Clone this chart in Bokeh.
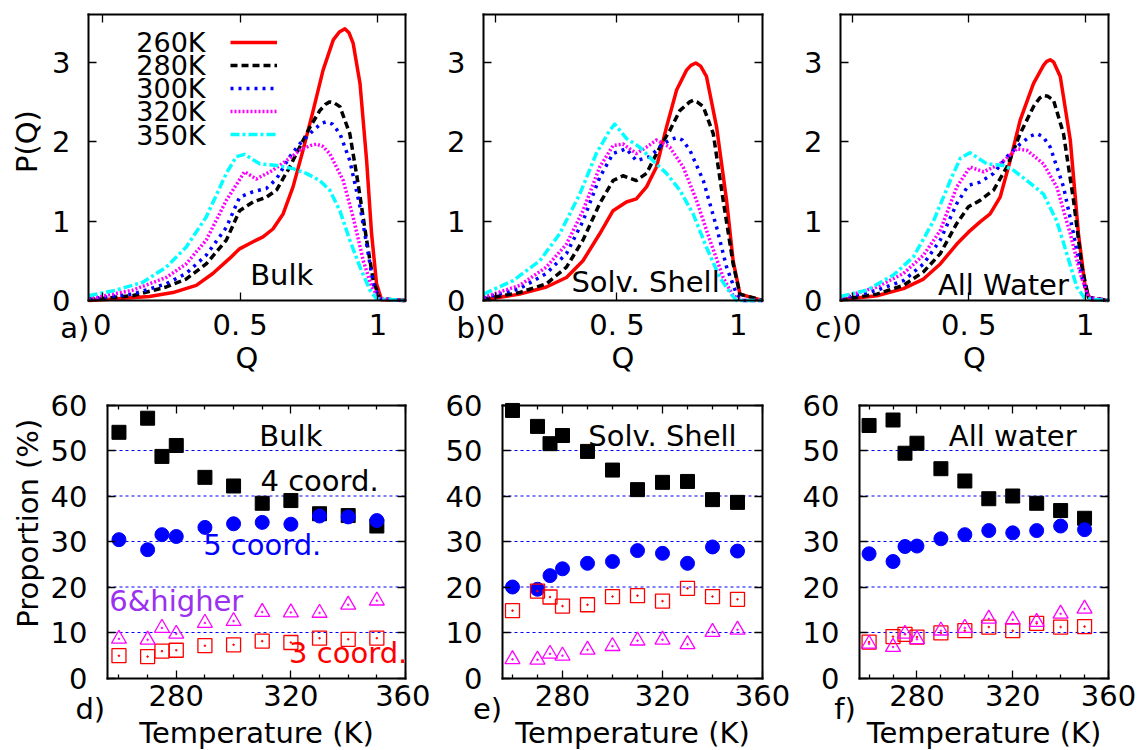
from bokeh.plotting import figure
from bokeh.layouts import column, row
from bokeh.models import (FixedTicker, LinearAxis, Label, Legend, LegendItem,
                          Range1d)
from bokeh.embed import file_html
from bokeh.resources import INLINE

FONT = "DejaVu Sans"
FS = "29px"

# ---------------- P(Q) distributions (top row) ----------------
pq_temps = ["260K", "280K", "300K", "320K", "350K"]

# Bulk
bulk_260_q = [-0.05, 0.0, 0.171, 0.256, 0.341, 0.401, 0.462, 0.498, 0.547, 0.583, 0.619, 0.656, 0.692, 0.728, 0.765, 0.801, 0.838, 0.86, 0.88, 0.895, 0.91, 0.935, 0.959, 0.977, 0.995, 1.013, 1.1]
bulk_260_p = [0.0, 0.01, 0.05, 0.1, 0.19, 0.34, 0.53, 0.65, 0.74, 0.8, 0.9, 1.09, 1.43, 1.89, 2.39, 2.9, 3.28, 3.38, 3.42, 3.37, 3.24, 2.73, 1.76, 0.84, 0.21, 0.01, 0.0]
bulk_280_q = [-0.05, 0.11, 0.232, 0.304, 0.377, 0.45, 0.498, 0.547, 0.595, 0.632, 0.68, 0.716, 0.753, 0.789, 0.81, 0.825, 0.84, 0.862, 0.898, 0.928, 0.959, 0.983, 1.007, 1.1]
bulk_280_p = [0.01, 0.06, 0.17, 0.27, 0.46, 0.76, 1.13, 1.24, 1.3, 1.39, 1.68, 1.93, 2.18, 2.39, 2.47, 2.5, 2.49, 2.44, 2.1, 1.47, 0.76, 0.25, 0.02, 0.0]
bulk_300_q = [-0.05, 0.11, 0.232, 0.304, 0.377, 0.45, 0.498, 0.547, 0.595, 0.632, 0.68, 0.716, 0.765, 0.795, 0.813, 0.835, 0.862, 0.898, 0.935, 0.959, 0.983, 1.007, 1.1]
bulk_300_p = [0.02, 0.08, 0.21, 0.34, 0.57, 0.92, 1.3, 1.37, 1.41, 1.53, 1.81, 1.97, 2.14, 2.23, 2.25, 2.22, 2.1, 1.76, 1.18, 0.71, 0.21, 0.02, 0.0]
bulk_320_q = [-0.05, 0.11, 0.232, 0.304, 0.377, 0.45, 0.516, 0.559, 0.619, 0.68, 0.716, 0.755, 0.777, 0.8, 0.825, 0.874, 0.91, 0.947, 0.977, 1.007, 1.1]
bulk_320_p = [0.02, 0.13, 0.29, 0.46, 0.76, 1.26, 1.62, 1.53, 1.64, 1.79, 1.89, 1.95, 1.97, 1.94, 1.85, 1.51, 1.05, 0.5, 0.17, 0.02, 0.0]
bulk_350_q = [-0.05, 0.05, 0.147, 0.232, 0.304, 0.377, 0.45, 0.486, 0.516, 0.571, 0.632, 0.692, 0.74, 0.789, 0.825, 0.862, 0.898, 0.935, 0.971, 0.995, 1.1]
bulk_350_p = [0.06, 0.13, 0.23, 0.42, 0.67, 1.05, 1.6, 1.81, 1.84, 1.72, 1.7, 1.66, 1.6, 1.51, 1.39, 1.13, 0.76, 0.42, 0.13, 0.02, 0.0]

# Solvation shell
shell_260_q = [-0.05, 0.099, 0.209, 0.292, 0.36, 0.429, 0.484, 0.539, 0.58, 0.622, 0.663, 0.704, 0.746, 0.787, 0.805, 0.825, 0.845, 0.869, 0.911, 0.952, 0.979, 1.007, 1.1]
shell_260_p = [0.01, 0.08, 0.17, 0.29, 0.5, 0.84, 1.13, 1.24, 1.28, 1.43, 1.68, 2.18, 2.65, 2.9, 2.96, 2.99, 2.95, 2.82, 2.18, 1.26, 0.5, 0.08, 0.0]
shell_280_q = [-0.05, 0.099, 0.209, 0.292, 0.36, 0.429, 0.484, 0.525, 0.58, 0.622, 0.677, 0.718, 0.759, 0.8, 0.814, 0.83, 0.856, 0.897, 0.938, 0.979, 1.007, 1.1]
shell_280_p = [0.02, 0.1, 0.21, 0.42, 0.76, 1.22, 1.51, 1.57, 1.51, 1.6, 1.93, 2.14, 2.39, 2.5, 2.52, 2.5, 2.44, 2.1, 1.26, 0.46, 0.08, 0.0]
shell_300_q = [-0.05, 0.099, 0.209, 0.292, 0.36, 0.429, 0.484, 0.539, 0.58, 0.635, 0.69, 0.725, 0.746, 0.77, 0.801, 0.856, 0.911, 0.952, 0.993, 1.021, 1.1]
shell_300_p = [0.03, 0.15, 0.34, 0.59, 1.0, 1.55, 1.85, 1.91, 1.76, 1.81, 1.97, 2.03, 2.05, 2.02, 1.89, 1.51, 0.92, 0.42, 0.08, 0.0, 0.0]
shell_320_q = [-0.05, 0.099, 0.209, 0.292, 0.36, 0.429, 0.484, 0.525, 0.58, 0.622, 0.663, 0.718, 0.773, 0.828, 0.883, 0.938, 0.979, 1.021, 1.1]
shell_320_p = [0.04, 0.19, 0.42, 0.71, 1.13, 1.68, 1.95, 1.97, 1.85, 1.93, 2.02, 1.93, 1.68, 1.26, 0.76, 0.29, 0.06, 0.0, 0.0]
shell_350_q = [-0.05, 0.072, 0.182, 0.264, 0.347, 0.415, 0.47, 0.491, 0.539, 0.594, 0.649, 0.704, 0.759, 0.814, 0.869, 0.924, 0.966, 0.993, 1.1]
shell_350_p = [0.08, 0.25, 0.5, 0.84, 1.34, 1.85, 2.14, 2.22, 2.04, 1.93, 1.76, 1.6, 1.39, 1.09, 0.67, 0.29, 0.1, 0.0, 0.0]

# All water
all_260_q = [-0.05, 0.106, 0.22, 0.306, 0.378, 0.449, 0.499, 0.549, 0.592, 0.635, 0.678, 0.721, 0.778, 0.821, 0.835, 0.85, 0.865, 0.893, 0.936, 0.971, 1.0, 1.021, 1.1]
all_260_p = [0.01, 0.06, 0.15, 0.27, 0.46, 0.71, 0.86, 0.99, 1.09, 1.3, 1.76, 2.27, 2.73, 2.96, 3.01, 3.03, 3.0, 2.82, 2.02, 0.84, 0.17, 0.01, 0.0]
all_280_q = [-0.05, 0.106, 0.22, 0.306, 0.378, 0.449, 0.499, 0.549, 0.607, 0.664, 0.721, 0.778, 0.805, 0.821, 0.84, 0.864, 0.907, 0.95, 0.986, 1.014, 1.1]
all_280_p = [0.01, 0.08, 0.19, 0.36, 0.59, 0.97, 1.18, 1.26, 1.39, 1.68, 2.1, 2.44, 2.55, 2.58, 2.57, 2.52, 2.1, 1.26, 0.42, 0.04, 0.0]
all_300_q = [-0.05, 0.106, 0.22, 0.306, 0.378, 0.449, 0.499, 0.549, 0.607, 0.664, 0.721, 0.765, 0.793, 0.82, 0.85, 0.907, 0.95, 0.986, 1.014, 1.1]
all_300_p = [0.02, 0.13, 0.25, 0.46, 0.76, 1.22, 1.45, 1.49, 1.6, 1.81, 1.97, 2.07, 2.1, 2.06, 1.93, 1.43, 0.84, 0.29, 0.03, 0.0]
all_320_q = [-0.05, 0.106, 0.22, 0.306, 0.378, 0.449, 0.506, 0.564, 0.635, 0.707, 0.75, 0.821, 0.878, 0.936, 0.979, 1.014, 1.1]
all_320_p = [0.03, 0.17, 0.34, 0.57, 0.88, 1.43, 1.68, 1.62, 1.72, 1.91, 1.89, 1.72, 1.43, 0.84, 0.34, 0.04, 0.0]
all_350_q = [-0.05, 0.063, 0.177, 0.263, 0.349, 0.421, 0.464, 0.506, 0.578, 0.649, 0.692, 0.75, 0.821, 0.878, 0.921, 0.964, 1.0, 1.1]
all_350_p = [0.05, 0.13, 0.32, 0.55, 1.0, 1.51, 1.79, 1.86, 1.72, 1.7, 1.64, 1.51, 1.34, 1.0, 0.59, 0.17, 0.02, 0.0]

q_ticks = [0, 0.5, 1]
q_tick_labels = ["0", "0. 5", "1"]
pq_ticks = [0, 1, 2, 3]

# ---------------- coordination proportions (bottom row) ----------------
temperature = [260, 270, 275, 280, 290, 300, 310, 320, 330, 340, 350]

bulk_c4 = [54.0, 57.1, 48.7, 51.1, 44.1, 42.2, 38.4, 39.0, 36.1, 35.7, 33.4]
bulk_c5 = [30.4, 28.2, 31.5, 31.1, 33.1, 33.9, 34.2, 33.8, 35.6, 35.4, 34.6]
bulk_c3 = [4.9, 4.7, 5.9, 6.1, 7.1, 7.3, 8.1, 7.8, 8.75, 8.5, 8.75]
bulk_c6 = [8.6, 8.4, 11.0, 9.7, 12.1, 12.5, 14.5, 14.4, 14.3, 16.1, 17.0]

shell_c4 = [58.8, 55.3, 51.5, 53.3, 49.8, 45.7, 41.4, 43.0, 43.2, 39.2, 38.6]
shell_c5 = [20.0, 19.5, 22.5, 24.0, 25.2, 25.6, 28.0, 27.4, 25.2, 28.8, 27.9]
shell_c3 = [14.8, 19.1, 17.8, 15.8, 16.1, 17.9, 18.1, 16.9, 19.7, 17.9, 17.3]
shell_c6 = [4.1, 4.0, 5.3, 4.9, 6.2, 7.0, 8.2, 8.4, 7.4, 10.1, 10.6]

all_c4 = [55.5, 56.7, 49.4, 51.6, 46.0, 43.3, 39.4, 40.0, 38.4, 36.8, 35.1]
all_c5 = [27.3, 25.6, 28.9, 29.0, 30.6, 31.5, 32.4, 31.9, 32.4, 33.4, 32.6]
all_c3 = [7.9, 9.1, 9.6, 9.0, 9.9, 10.4, 11.2, 10.4, 12.0, 11.2, 11.3]
all_c6 = [7.5, 6.8, 9.7, 8.5, 10.4, 11.0, 13.0, 12.8, 12.3, 14.1, 15.2]

t_ticks = [280, 320, 360]
t_minor = [260, 270, 290, 300, 310, 330, 340, 350]
prop_ticks = [0, 10, 20, 30, 40, 50, 60]
prop_grid = [10, 20, 30, 40, 50]

LINE_STYLES = [
    dict(line_color="#ff0000", line_dash="solid"),
    dict(line_color="#000000", line_dash="7 4"),
    dict(line_color="#0000ff", line_dash="3 5"),
    dict(line_color="#ff00ff", line_dash="2 2"),
    dict(line_color="#00ffff", line_dash="9 3 3 3"),
]


def style_axis(ax, standoff, show_labels=True):
    ax.axis_line_color = "black"
    ax.axis_line_width = 2
    ax.axis_line_cap = "square"
    ax.major_tick_in = 8
    ax.major_tick_out = 0
    ax.major_tick_line_color = "black"
    ax.major_tick_line_width = 1.3
    ax.minor_tick_in = 4
    ax.minor_tick_out = 0
    ax.minor_tick_line_color = "black"
    ax.minor_tick_line_width = 1.3
    ax.major_label_text_font = FONT
    if show_labels:
        ax.major_label_text_font_size = FS
        ax.major_label_text_color = "black"
        ax.major_label_standoff = standoff
    else:
        ax.major_label_text_font_size = "1px"
        ax.major_label_text_color = None
        ax.major_label_standoff = 0


def make_panel(W, H, box, xr, yr, xticks, yticks, xminor=None, xlabels=None,
               ystand=18):
    """Canvas of W x H whose plotting box sits at box = (left, right, top, bottom)."""
    L, R, T, B = box
    x0, x1 = xr
    y0, y1 = yr
    sx = (x1 - x0) / (R - L)
    sy = (y1 - y0) / (B - T)
    p = figure(width=W, height=H, min_border=0,
               x_range=Range1d(x0 - L * sx, x1 + (W - R) * sx),
               y_range=Range1d(y0 - (H - B) * sy, y1 + T * sy),
               x_axis_type=None, y_axis_type=None, title=None,
               output_backend="svg", toolbar_location=None)
    p.outline_line_color = None
    p.background_fill_color = "white"
    p.border_fill_color = "white"
    for loc, pos in (("below", y0), ("above", y1)):
        ax = LinearAxis(ticker=FixedTicker(ticks=xticks, minor_ticks=xminor or []),
                        fixed_location=pos, bounds=(x0, x1))
        style_axis(ax, 7, show_labels=(loc == "below"))
        if xlabels is not None:
            ax.major_label_overrides = {t: s for t, s in zip(xticks, xlabels)}
        p.add_layout(ax, loc)
    for loc, pos in (("left", x0), ("right", x1)):
        ax = LinearAxis(ticker=FixedTicker(ticks=yticks), fixed_location=pos,
                        bounds=(y0, y1))
        style_axis(ax, ystand, show_labels=(loc == "left"))
        p.add_layout(ax, loc)
    return p


def add_text(p, x, y, text, color="black", size=FS, align="center", angle=0.0):
    p.add_layout(Label(x=x, y=y, text=text, text_font=FONT, text_font_size=size,
                       text_color=color, text_align=align,
                       text_baseline="middle", angle=angle))


def pq_panel(W, box, curves, name, name_x, name_y, letter):
    p = make_panel(W, 380, box, (-0.05, 1.1), (0, 3.6),
                   q_ticks, pq_ticks, xlabels=q_tick_labels, ystand=18)
    rends = []
    for (q, pv), st in zip(curves, LINE_STYLES):
        rends.append(p.line(q, pv, line_width=3.5, line_join="round", **st))
    add_text(p, name_x, name_y, name)
    add_text(p, -0.1, -0.34, letter)
    add_text(p, 0.525, -0.73, "Q")
    return p, rends


# ---- top row ----
pa, rends_a = pq_panel(430, (88, 405, 14, 300),
                       [(bulk_260_q, bulk_260_p), (bulk_280_q, bulk_280_p),
                        (bulk_300_q, bulk_300_p), (bulk_320_q, bulk_320_p),
                        (bulk_350_q, bulk_350_p)],
                       "Bulk", 0.651, 0.321, "a)")
pb, _ = pq_panel(370, (53, 332, 14, 300),
                 [(shell_260_q, shell_260_p), (shell_280_q, shell_280_p),
                  (shell_300_q, shell_300_p), (shell_320_q, shell_320_p),
                  (shell_350_q, shell_350_p)],
                 "Solv. Shell", 0.618, 0.233, "b)")
pc, _ = pq_panel(345, (40, 308, 14, 300),
                 [(all_260_q, all_260_p), (all_280_q, all_280_p),
                  (all_300_q, all_300_p), (all_320_q, all_320_p),
                  (all_350_q, all_350_p)],
                 "All Water", 0.649, 0.189, "c)")

add_text(pa, -0.273, 2.0, "P(Q)", angle=1.5707963)

# temperature key: sample lines through a Legend, names right-aligned to their left
legend = Legend(items=[LegendItem(label="", renderers=[r]) for r in rends_a],
                location=(230, 236), orientation="vertical", padding=0, margin=0,
                spacing=3, glyph_width=47, glyph_height=20, label_width=0,
                label_height=20, label_standoff=0, border_line_color=None,
                background_fill_alpha=0, label_text_font_size="1px")
pa.add_layout(legend)
for name, yk in zip(pq_temps, [3.253, 2.963, 2.667, 2.377, 2.081]):
    add_text(pa, 0.3745, yk, name, size="27px", align="right")


# ---- bottom row ----
T_RANGE = (256, 360)


def prop_panel(W, box, c4, c5, c3, c6, name, letter):
    p = make_panel(W, 370, box, T_RANGE, (0, 60),
                   t_ticks, prop_ticks, xminor=t_minor, ystand=20)
    # dashed guide lines at the inner major ticks, limited to the plotting box
    p.segment(x0=[T_RANGE[0]] * len(prop_grid), x1=[T_RANGE[1]] * len(prop_grid),
              y0=prop_grid, y1=prop_grid, line_color="#0000ff", line_dash="3 3",
              line_width=1, level="underlay")
    p.scatter(temperature, c4, marker="square", size=14, color="black")
    p.scatter(temperature, c5, marker="circle", size=14, color="#0000ff")
    p.scatter(temperature, c3, marker="square", size=14, fill_color=None,
              line_color="#ff0000", line_width=1.3)
    p.scatter(temperature, c3, marker="circle", size=1.6, color="#ff0000")
    p.scatter(temperature, c6, marker="triangle", size=15, fill_color=None,
              line_color="#ff00ff", line_width=1.3)
    p.scatter(temperature, c6, marker="circle", size=1.6, color="#ff00ff")
    add_text(p, 320, 53.1, name)
    add_text(p, 250, -6.8, letter)
    add_text(p, 308, -12.1, "Temperature (K)")
    return p


pd_ = prop_panel(430, (107, 405, 24.5, 297.5), bulk_c4, bulk_c5, bulk_c3, bulk_c6, "Bulk", "d)")
pe = prop_panel(370, (72, 332, 24.5, 297.5), shell_c4, shell_c5, shell_c3, shell_c6, "Solv. Shell", "e)")
pf = prop_panel(345, (59, 308, 24.5, 297.5), all_c4, all_c5, all_c3, all_c6, "All water", "f)")

add_text(pd_, 228.4, 34.0, "Proportion (%)", angle=1.5707963)
add_text(pd_, 330, 43.2, "4 coord.")
add_text(pd_, 310, 29.2, "5 coord.", color="#0000ff")
add_text(pd_, 280, 17.0, "6&higher", color="#9b30f0")
add_text(pd_, 340, 5.4, "3 coord.", color="#ff0000")

layout = column(row(pa, pb, pc), row(pd_, pe, pf))
open("out.html", "w").write(file_html(layout, INLINE))
